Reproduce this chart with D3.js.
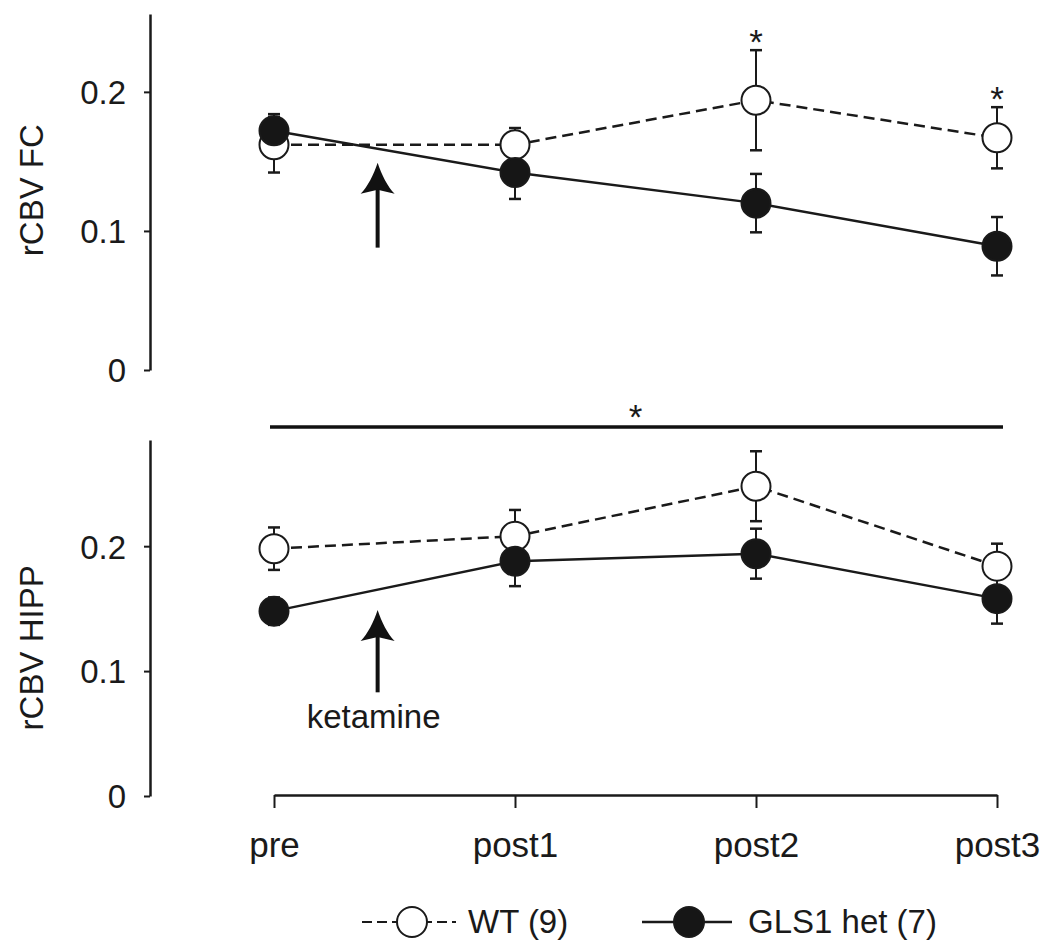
<!DOCTYPE html>
<html><head><meta charset="utf-8">
<script src="https://cdn.jsdelivr.net/npm/d3@7"></script>
<style>
body{margin:0;background:#fff}
svg{display:block}
text{font-family:"Liberation Sans",Arial,Helvetica,sans-serif;fill:#1a1a1a}
</style>
</head><body>
<svg id="c" width="1050" height="949"></svg>
<script>
// ---- data ----
const timepoints = ["pre", "post1", "post2", "post3"];
const yTicks = [0, 0.1, 0.2];
const panelTitles = ["rCBV FC", "rCBV HIPP"];
const seriesNames = ["WT (9)", "GLS1 het (7)"];

const fcWT = [0.162, 0.162, 0.194, 0.167];
const fcWTse = [0.020, 0.012, 0.036, 0.022];
const fcGLS = [0.172, 0.142, 0.120, 0.089];
const fcGLSse = [0.012, 0.019, 0.021, 0.021];
const fcSig = [false, false, true, true];

const hippWT = [0.198, 0.208, 0.248, 0.184];
const hippWTse = [0.017, 0.021, 0.028, 0.018];
const hippGLS = [0.148, 0.188, 0.194, 0.158];
const hippGLSse = [0.011, 0.020, 0.020, 0.020];

const arrowLabel = "ketamine";
const arrowFrac = 0.43;          // position between pre and post1
const arrowTipVal = 0.149, arrowBaseFc = 0.088, arrowBaseHipp = 0.083;

// ---- layout ----
const svg = d3.select("#c");
const FS = 33;
const INK = "#1a1a1a";
const x = d3.scalePoint().domain(timepoints).range([274, 997]);
const yTop = d3.scaleLinear().domain([0, 0.256]).range([370, 14]);
const yBot = d3.scaleLinear().domain([0, 0.285]).range([796, 440]);
const AX = 150;
const R = 14.5;

function yAxis(y, title) {
  const g = svg.append("g").attr("transform", `translate(${AX},0)`)
    .call(d3.axisLeft(y).tickValues(yTicks)
      .tickFormat(d => d === 0 ? "0" : d3.format(".1f")(d))
      .tickSize(6).tickSizeOuter(0).tickPadding(18));
  g.attr("font-size", null).attr("font-family", null);
  g.selectAll("text").style("font-size", FS + "px").attr("fill", INK).attr("dy", "0.36em");
  g.selectAll("line").attr("stroke", INK).attr("stroke-width", 2);
  g.select(".domain").attr("stroke", INK).attr("stroke-width", 2.5);
  svg.append("text")
    .attr("transform", `translate(43,${(y(0) + y(0.25)) / 2 + (title === "rCBV FC" ? -6 : 8)}) rotate(-90)`)
    .attr("text-anchor", "middle").style("font-size", FS + "px").text(title);
}

function panel(y, wt, wtse, gls, glsse, sig) {
  const g = svg.append("g");
  const series = [
    {v: wt, se: wtse, fill: "#fff", dash: "11,6"},
    {v: gls, se: glsse, fill: "#161616", dash: null}
  ];
  // error bars
  series.forEach(s => {
    s.v.forEach((v, i) => {
      const cx = x(timepoints[i]);
      const y1 = y(v - s.se[i]), y2 = y(v + s.se[i]);
      g.append("line").attr("x1", cx).attr("x2", cx).attr("y1", y1).attr("y2", y2)
        .attr("stroke", INK).attr("stroke-width", 2);
      [y1, y2].forEach(yy => g.append("line").attr("x1", cx - 6).attr("x2", cx + 6)
        .attr("y1", yy).attr("y2", yy).attr("stroke", INK).attr("stroke-width", 2.5));
    });
  });
  // lines
  const line = d3.line().x((d, i) => x(timepoints[i])).y(d => y(d));
  series.forEach(s => {
    g.append("path").datum(s.v).attr("d", line).attr("fill", "none")
      .attr("stroke", INK).attr("stroke-width", 2.5)
      .attr("stroke-dasharray", s.dash);
  });
  // markers
  series.forEach(s => {
    g.selectAll(null).data(s.v).join("circle")
      .attr("cx", (d, i) => x(timepoints[i])).attr("cy", d => y(d)).attr("r", R)
      .attr("fill", s.fill).attr("stroke", INK).attr("stroke-width", 2);
  });
  // significance asterisks
  if (sig) {
    sig.forEach((f, i) => {
      if (!f) return;
      g.append("text").attr("x", x(timepoints[i])).attr("y", y(wt[i] + wtse[i]) + 4)
        .attr("text-anchor", "middle").style("font-size", "35px").text("*");
    });
  }
}

function arrow(y, tipVal, baseVal) {
  const ax = x(timepoints[0]) + arrowFrac * (x(timepoints[1]) - x(timepoints[0]));
  const ty = y(tipVal), by = y(baseVal);
  svg.append("line").attr("x1", ax).attr("x2", ax).attr("y1", ty + 20).attr("y2", by)
    .attr("stroke", "#111").attr("stroke-width", 4);
  svg.append("path")
    .attr("d", `M${ax},${ty} C${ax + 4},${ty + 12} ${ax + 10},${ty + 24} ${ax + 17},${ty + 31} L${ax},${ty + 27} L${ax - 17},${ty + 31} C${ax - 10},${ty + 24} ${ax - 4},${ty + 12} ${ax},${ty}Z`)
    .attr("fill", "#111");
  return ax;
}

// top panel
yAxis(yTop, panelTitles[0]);
arrow(yTop, arrowTipVal, arrowBaseFc);
panel(yTop, fcWT, fcWTse, fcGLS, fcGLSse, fcSig);

// bottom panel
yAxis(yBot, panelTitles[1]);
const kx = arrow(yBot, arrowTipVal, arrowBaseHipp);
svg.append("text").attr("x", kx - 4).attr("y", 728).attr("text-anchor", "middle")
  .style("font-size", FS + "px").text(arrowLabel);
panel(yBot, hippWT, hippWTse, hippGLS, hippGLSse, null);

// overall significance bar between panels
svg.append("line").attr("x1", x("pre") - 4).attr("x2", x("post3") + 6)
  .attr("y1", 427).attr("y2", 427).attr("stroke", "#111").attr("stroke-width", 3.5);
svg.append("text").attr("x", (x("pre") + x("post3")) / 2).attr("y", 429)
  .attr("text-anchor", "middle").style("font-size", "35px").text("*");

// x axis
const gx = svg.append("g").attr("transform", "translate(0,795)")
  .call(d3.axisBottom(x).tickSize(13).tickSizeOuter(0));
gx.attr("font-size", null).attr("font-family", null);
gx.select(".domain").attr("stroke", INK).attr("stroke-width", 2.5);
gx.selectAll("line").attr("stroke", INK).attr("stroke-width", 2);
gx.selectAll("text").attr("dy", null).attr("y", 62).attr("fill", INK).style("font-size", "35px");

// legend
const legY = 922;
const leg = svg.append("g");
leg.append("line").attr("x1", 362).attr("x2", 456).attr("y1", legY).attr("y2", legY)
  .attr("stroke", INK).attr("stroke-width", 2).attr("stroke-dasharray", "10,5");
leg.append("circle").attr("cx", 412).attr("cy", legY).attr("r", 15)
  .attr("fill", "#fff").attr("stroke", INK).attr("stroke-width", 2);
leg.append("text").attr("x", 468).attr("y", legY + 11).style("font-size", FS + "px").text(seriesNames[0]);
leg.append("line").attr("x1", 642).attr("x2", 732).attr("y1", legY).attr("y2", legY)
  .attr("stroke", INK).attr("stroke-width", 2.5);
leg.append("circle").attr("cx", 689).attr("cy", legY).attr("r", 15)
  .attr("fill", "#161616").attr("stroke", INK).attr("stroke-width", 2);
leg.append("text").attr("x", 748).attr("y", legY + 11).style("font-size", FS + "px").text(seriesNames[1]);
</script>
</body></html>
